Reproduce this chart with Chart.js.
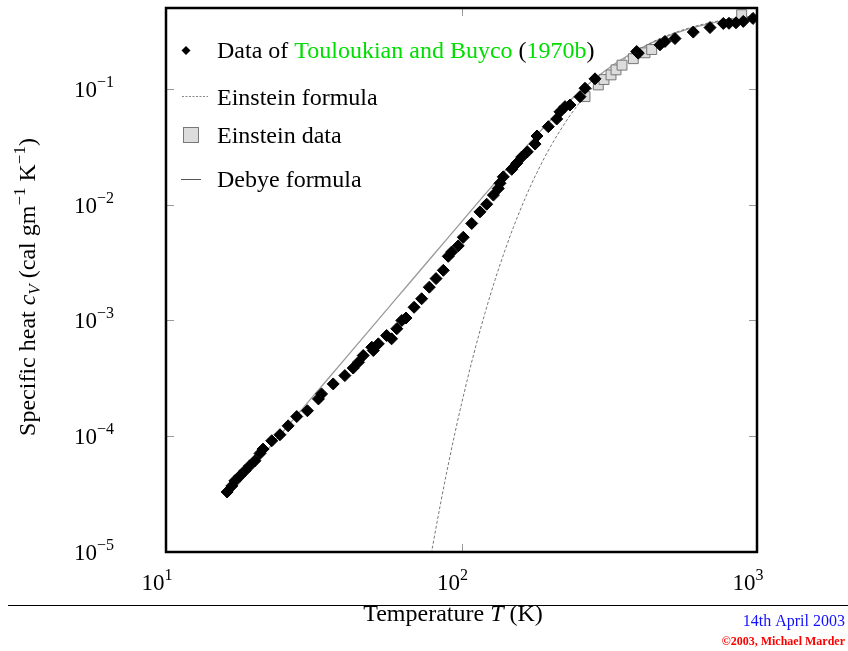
<!DOCTYPE html>
<html>
<head>
<meta charset="utf-8">
<script src="https://cdn.jsdelivr.net/npm/chart.js@4.4.0/dist/chart.umd.min.js"></script>
<style>
  html, body { margin: 0; padding: 0; background: #fff; }
</style>
</head>
<body>
<canvas id="miGrafico" width="848" height="651"></canvas>
<script>
// Datos de Touloukian y Buyco (diamantes negros)
const touloukianT = [16.1, 16.7, 17.1, 17.8, 18.5, 19.2, 20.0, 20.8, 21.3, 22.8, 24.3, 25.9, 27.7, 30.1, 32.8, 33.6,
  36.8, 40.3, 43.0, 44.8, 46.5, 49.7, 50.3, 52.3, 55.8, 58.0, 60.4, 62.8, 64.9, 69.1, 73.3, 77.8, 82.0, 86.8,
  90.2, 92.6, 97.5, 101.4, 108.3, 115.5, 121.7, 128.2, 133.2, 135.0, 138.5, 147.9, 153.8, 159.9, 167.0, 177.4,
  180.1, 196.7, 210.0, 215.4, 224.0, 232.9, 251.8, 261.8, 283.0, 391.6, 396.5, 469.6, 488.3, 527.8, 608.6,
  693.4, 769.1, 803.9, 849.0, 898.6, 969.3];
const touloukianCv = [3.30e-5, 3.72e-5, 4.12e-5, 4.55e-5, 5.03e-5, 5.55e-5, 6.14e-5, 7.10e-5, 7.74e-5, 9.14e-5,
  1.03e-4, 1.23e-4, 1.48e-4, 1.66e-4, 2.10e-4, 2.32e-4, 2.83e-4, 3.34e-4, 3.88e-4, 4.36e-4, 4.98e-4, 5.87e-4,
  5.50e-4, 6.28e-4, 7.41e-4, 6.94e-4, 8.48e-4, 1.00e-3, 1.05e-3, 1.30e-3, 1.54e-3, 1.94e-3, 2.30e-3, 2.71e-3,
  3.58e-3, 3.90e-3, 4.41e-3, 5.23e-3, 6.88e-3, 8.67e-3, 1.01e-2, 1.21e-2, 1.38e-2, 1.53e-2, 1.74e-2, 2.02e-2,
  2.28e-2, 2.58e-2, 2.86e-2, 3.34e-2, 3.92e-2, 4.72e-2, 5.50e-2, 6.35e-2, 7.03e-2, 7.26e-2, 8.57e-2, 0.1014,
  0.1222, 0.2105, 0.2037, 0.2405, 0.2570, 0.2722, 0.3097, 0.3388, 0.3675, 0.369, 0.3725, 0.383, 0.4065];

// Datos de Einstein (cuadrados grises)
const einsteinDataT = [261.8, 290.4, 303.6, 320.6, 333.3, 349.3, 381.4, 417.8, 440.2, 887.5];
const einsteinDataCv = [0.0858, 0.1083, 0.1205, 0.1322, 0.1461, 0.1604, 0.1825, 0.2051, 0.2190, 0.4374];

// Curva de Einstein (punteada)
const einsteinCurveT = [78, 80, 85, 90, 95, 100, 110, 120, 130, 140, 150, 165, 180, 200, 225, 250, 280, 320,
  370, 430, 500, 600, 700, 850, 1000];
const einsteinCurveCv = [7.97e-6, 1.15e-5, 2.65e-5, 5.53e-5, 1.062e-4, 1.90e-4, 5.12e-4, 1.151e-3, 2.26e-3,
  3.97e-3, 6.43e-3, 1.169e-2, 1.896e-2, 3.166e-2, 5.17e-2, 7.50e-2, 0.1051, 0.1461, 0.1942, 0.2441, 0.2912,
  0.3409, 0.3758, 0.4104, 0.4326];

// Curva de Debye (linea continua)
const debyeT = [16.5, 20, 30, 40, 60, 80, 100, 120, 150, 177, 220, 255.6, 293.3, 352, 440, 586.7, 704, 880, 1000];
const debyeCv = [3.19e-5, 5.68e-5, 1.92e-4, 4.54e-4, 1.534e-3, 3.64e-3, 7.10e-3, 1.227e-2, 2.38e-2, 3.83e-2,
  6.87e-2, 9.85e-2, 0.132, 0.1832, 0.2500, 0.3294, 0.3707, 0.4102, 0.4278];

// Marcas de los ejes
const xTicks = [10, 100, 1000];
const xTickExp = ['1', '2', '3'];
const yTicks = [1e-5, 1e-4, 1e-3, 1e-2, 1e-1];
const yTickExp = ['\u22125', '\u22124', '\u22123', '\u22122', '\u22121'];

const serif = "'Liberation Serif', 'Times New Roman', serif";

function toXY(xs, ys) {
  return xs.map((v, i) => ({ x: v, y: ys[i] }));
}

// dibuja texto compuesto por trozos (cursiva, sub/superindices)
function drawRich(ctx, segs, x, y, align) {
  let total = 0;
  segs.forEach(s => {
    ctx.font = s.font;
    s.w = ctx.measureText(s.t).width;
    total += s.w;
  });
  let cx = align === 'center' ? x - total / 2 : (align === 'right' ? x - total : x);
  ctx.textAlign = 'left';
  ctx.textBaseline = 'alphabetic';
  segs.forEach(s => {
    ctx.font = s.font;
    ctx.fillStyle = s.color || '#000';
    ctx.fillText(s.t, cx, y + (s.dy || 0));
    cx += s.w;
  });
  return total;
}

function pow10(exp, size) {
  return [
    { t: '10', font: size + 'px ' + serif },
    { t: exp, font: Math.round(size * 0.7) + 'px ' + serif, dy: -Math.round(size * 0.42) }
  ];
}

const decor = {
  id: 'decor',
  afterDraw(chart) {
    const { ctx, chartArea: a, scales: { x, y } } = chart;
    ctx.save();

    // marcas internas
    ctx.strokeStyle = '#999';
    ctx.lineWidth = 1;
    ctx.beginPath();
    yTicks.forEach(v => {
      const py = Math.round(y.getPixelForValue(v)) + 0.5;
      ctx.moveTo(a.left, py); ctx.lineTo(a.left + 8, py);
      ctx.moveTo(a.right - 8, py); ctx.lineTo(a.right, py);
    });
    xTicks.forEach(v => {
      const px = Math.round(x.getPixelForValue(v)) + 0.5;
      ctx.moveTo(px, a.top); ctx.lineTo(px, a.top + 8);
      ctx.moveTo(px, a.bottom - 8); ctx.lineTo(px, a.bottom);
    });
    ctx.stroke();

    // marco
    ctx.strokeStyle = '#000';
    ctx.lineWidth = 2.5;
    ctx.strokeRect(a.left, a.top, a.right - a.left, a.bottom - a.top);

    // etiquetas de las marcas
    yTicks.forEach((v, i) => {
      const py = y.getPixelForValue(v);
      drawRich(ctx, pow10(yTickExp[i], 23), 74, py + 8, 'left');
    });
    xTicks.forEach((v, i) => {
      const px = x.getPixelForValue(v);
      drawRich(ctx, pow10(xTickExp[i], 23), px - 9, 590, 'center');
    });

    // titulos de los ejes
    const f = '24px ' + serif, fi = 'italic 24px ' + serif, fs = '17px ' + serif, fsi = 'italic 17px ' + serif;
    drawRich(ctx, [
      { t: 'Temperature ', font: f },
      { t: 'T', font: fi },
      { t: ' (K)', font: f }
    ], 453, 621, 'center');

    ctx.save();
    ctx.translate(35, 287);
    ctx.rotate(-Math.PI / 2);
    drawRich(ctx, [
      { t: 'Specific heat ', font: f },
      { t: 'c', font: fi },
      { t: 'V', font: fsi, dy: 5 },
      { t: ' (cal gm', font: f },
      { t: '\u22121', font: fs, dy: -10 },
      { t: ' K', font: f },
      { t: '\u22121', font: fs, dy: -10 },
      { t: ')', font: f }
    ], 0, 0, 'center');
    ctx.restore();

    // leyenda
    const green = '#00dd00';
    const lx = 217;
    // diamante
    ctx.fillStyle = '#000';
    ctx.beginPath();
    ctx.moveTo(186, 46); ctx.lineTo(190.5, 50.5); ctx.lineTo(186, 55); ctx.lineTo(181.5, 50.5); ctx.closePath();
    ctx.fill();
    drawRich(ctx, [
      { t: 'Data of ', font: f },
      { t: 'Touloukian and Buyco', font: f, color: green },
      { t: ' (', font: f },
      { t: '1970b', font: f, color: green },
      { t: ')', font: f }
    ], lx, 58, 'left');
    // linea punteada
    ctx.strokeStyle = '#888';
    ctx.lineWidth = 1;
    ctx.setLineDash([2, 1.5]);
    ctx.beginPath(); ctx.moveTo(182, 96.5); ctx.lineTo(208, 96.5); ctx.stroke();
    ctx.setLineDash([]);
    drawRich(ctx, [{ t: 'Einstein formula', font: f }], lx, 105, 'left');
    // cuadrado
    ctx.fillStyle = '#dcdcdc';
    ctx.strokeStyle = '#777';
    ctx.fillRect(183.5, 127.5, 15, 15);
    ctx.strokeRect(183.5, 127.5, 15, 15);
    drawRich(ctx, [{ t: 'Einstein data', font: f }], lx, 143, 'left');
    // linea continua
    ctx.strokeStyle = '#555';
    ctx.beginPath(); ctx.moveTo(181, 179.5); ctx.lineTo(201, 179.5); ctx.stroke();
    drawRich(ctx, [{ t: 'Debye formula', font: f }], lx, 187, 'left');

    // pie de pagina
    ctx.strokeStyle = '#000';
    ctx.lineWidth = 1;
    ctx.beginPath(); ctx.moveTo(8, 605.5); ctx.lineTo(848, 605.5); ctx.stroke();
    drawRich(ctx, [{ t: '14th April 2003', font: '16px ' + serif, color: '#1010ff' }], 845, 626, 'right');
    drawRich(ctx, [{ t: '\u00a92003, Michael Marder', font: 'bold 12px ' + serif, color: '#ff0000' }], 845, 645, 'right');

    ctx.restore();
  }
};

const ctx = document.getElementById('miGrafico').getContext('2d');
const myChart = new Chart(ctx, {
  type: 'scatter',
  data: {
    datasets: [
      {
        label: 'Data of Touloukian and Buyco (1970b)',
        data: toXY(touloukianT, touloukianCv),
        pointStyle: 'rectRot',
        pointRadius: 6,
        backgroundColor: '#000',
        borderColor: '#000',
        borderWidth: 1,
        showLine: false,
      },
      {
        label: 'Einstein data',
        data: toXY(einsteinDataT, einsteinDataCv),
        pointStyle: 'rect',
        pointRadius: 7,
        backgroundColor: '#dcdcdc',
        borderColor: '#777',
        borderWidth: 1,
        showLine: false,
      },
      {
        label: 'Einstein formula',
        data: toXY(einsteinCurveT, einsteinCurveCv),
        showLine: true,
        pointRadius: 0,
        borderColor: '#777',
        borderWidth: 1,
        borderDash: [3, 2],
        cubicInterpolationMode: 'monotone',
        fill: false,
      },
      {
        label: 'Debye formula',
        data: toXY(debyeT, debyeCv),
        showLine: true,
        pointRadius: 0,
        borderColor: '#999',
        borderWidth: 1.3,
        cubicInterpolationMode: 'monotone',
        fill: false,
      },
    ],
  },
  options: {
    responsive: false,
    animation: false,
    events: [],
    layout: { padding: { left: 0, top: 8, right: 91, bottom: 0 } },
    plugins: { legend: { display: false }, tooltip: { enabled: false }, title: { display: false } },
    scales: {
      x: {
        type: 'logarithmic',
        min: 10,
        max: 1000,
        grid: { display: false },
        border: { display: false },
        ticks: { display: false },
        afterFit: (s) => { s.height = 99; },
      },
      y: {
        type: 'logarithmic',
        min: 1e-5,
        max: 0.5,
        grid: { display: false },
        border: { display: false },
        ticks: { display: false },
        afterFit: (s) => { s.width = 166; },
      },
    },
  },
  plugins: [decor],
});
</script>
</body>
</html>
